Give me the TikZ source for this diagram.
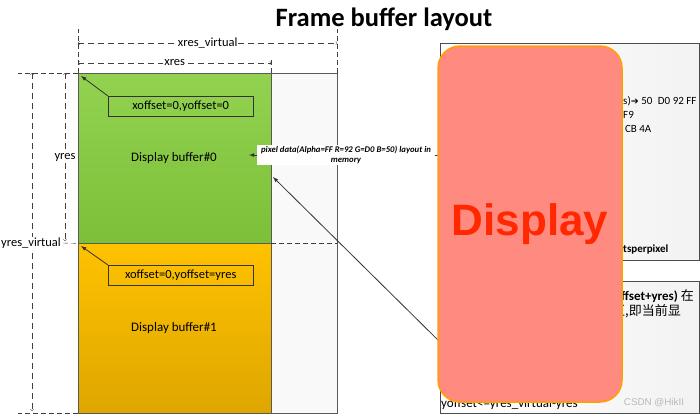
\documentclass[tikz,border=0pt]{standalone}
\usepackage{fontspec}
\setmainfont{Carlito}
\newfontfamily\dispfont{Liberation Sans}
\newfontfamily\cjkfont{Noto Sans CJK SC}
\newfontfamily\symfont{DejaVu Sans}
\definecolor{greenTop}{RGB}{146,210,80}
\definecolor{greenBot}{RGB}{124,192,56}
\definecolor{orangeTop}{RGB}{255,194,0}
\definecolor{orangeBot}{RGB}{222,166,0}
\definecolor{dispFill}{RGB}{255,138,128}
\definecolor{dispEdge}{RGB}{255,160,0}
\definecolor{dispText}{RGB}{255,40,0}

\begin{document}
\begin{tikzpicture}[x=1pt, y=-1pt, font=\fontsize{12.5}{14}\selectfont,
    dim/.style={gray!50!black, dash pattern=on 6pt off 4pt},
    ext/.style={gray!50!black, dash pattern=on 5pt off 3pt},
    dimlabel/.style={fill=white, inner sep=1pt, text=black},
    box/.style={draw=gray!70!black, inner sep=0pt, anchor=north west},
    tag/.style={draw=gray!40!black, minimum width=145, minimum height=20, anchor=north west, inner sep=0pt},
    pointer/.style={-latex, black!80, thick},
    small/.style={font=\fontsize{11}{13}\selectfont, anchor=west, inner sep=0pt}]

    \useasboundingbox (0,0) rectangle (700,416);

    % Title
    \node[font=\bfseries\fontsize{26.5}{30}\selectfont] (title) at (384,19) {Frame buffer layout};

    % Virtual area and the two display buffers
    \node[box, fill=gray!5, minimum width=259, minimum height=340] (virt) at (78,73) {};
    \node[box, top color=greenTop, bottom color=greenBot, minimum width=193, minimum height=170] (buf0) at (78,73) {};
    \node[box, top color=orangeTop, bottom color=orangeBot, minimum width=193, minimum height=170] (buf1) at (78,243) {};
    \node[font=\fontsize{13}{15}\selectfont] (lab0) at (174,158) {Display buffer\#0};
    \node[font=\fontsize{13}{15}\selectfont] (lab1) at (174,328) {Display buffer\#1};

    % Extension lines
    \draw[ext] (virt.north west) -- ++(0,-44);
    \draw[ext] (virt.north east) -- ++(0,-44);
    \draw[ext] (buf0.north east) -- ++(0,-15);
    \draw[ext] (virt.north west) -- ++(-60,0);
    \draw[ext] (virt.south west) -- ++(-60,0);
    \draw[ext] (63,243) -- (buf0.south west);
    \draw[ext] (buf0.south east) -- (virt.east |- buf0.south);

    % Dimension lines
    \draw[dim, <->] (virt.north west |- 0,43) -- (virt.north east |- 0,43)
        node[midway, dimlabel] (xv) {xres\_virtual};
    \draw[dim, <->] (buf0.north west |- 0,63) -- (buf0.north east |- 0,63)
        node[midway, dimlabel] (xr) {xres};
    \draw[dim, <->] (65,73) -- (65,241)
        node[midway, dimlabel] (yr) {yres};
    \draw[dim, <->] (32,73) -- (32,411);
    \node[dimlabel] (yv) at (31,243) {yres\_virtual};

    % Offset tags
    \node[tag] (off0) at (108,96) {xoffset=0,yoffset=0};
    \node[tag] (off1) at (108,265) {xoffset=0,yoffset=yres};
    \coordinate (tip0) at (81,76);
    \coordinate (tip1) at (81,246);
    \draw[pointer] (off0.north west) -- (tip0);
    \draw[pointer] (off1.north west) -- (tip1);

    % Info boxes on the right
    \node[box, draw=gray!60!black, left color=white, right color=gray!10, minimum width=259, minimum height=217] (info1) at (440,43) {};
    \node[box, draw=gray!60!black, left color=white, right color=gray!10, minimum width=259, minimum height=132] (info2) at (440,281) {};
    \node[small] (t1) at (623,101) {s){\symfont\fontsize{9.5}{11}\selectfont ➔} 50\enspace D0 92 FF};
    \node[small] (t2) at (623,115) {F9};
    \node[small] (t3) at (623,129) {\,CB 4A};
    \node[small, font=\bfseries\fontsize{11}{13}\selectfont] (t4) at (623,249) {tsperpixel};
    \node[small, font=\bfseries\fontsize{13}{15}\selectfont] (t5) at (621,296) {ffset+yres) {\cjkfont\mdseries 在}};
    \node[small, font=\cjkfont\fontsize{13}{15}\selectfont] (t6) at (612,311) {区,即当前显};
    \node[small, font=\fontsize{13}{15}\selectfont] (t7) at (441,404) {yoffset<=yres\_virtual-yres};
    \node[text=gray!55, font=\dispfont\fontsize{9.8}{11}\selectfont] (mark) at (654,403) {CSDN @HikII};

    % Pixel data label
    \node[fill=white, font=\bfseries\itshape\fontsize{8.7}{9.5}\selectfont, align=center, inner sep=1pt, minimum width=178, minimum height=20] (pix) at (346,155) {pixel data(Alpha=FF R=92 G=D0 B=50) layout in\\memory};
    \coordinate (pixtip) at (249,155);
    \draw[pointer] (pix.west) -- (pixtip);
    \draw[black!80, thick] (pix.east) -- (info1.west |- pix.east);

    % Long pointer to buffer#0
    \coordinate (from2) at (444,346);
    \coordinate (tip2) at (273,177);
    \draw[pointer] (from2) -- (tip2);

    % Display
    \node[draw=dispEdge, line width=1.5pt, fill=dispFill, rounded corners=22, minimum width=184, minimum height=356,
        text=dispText, font=\dispfont\bfseries\fontsize{44}{44}\selectfont] (disp) at (530,224) {Display};

\end{tikzpicture}
\end{document}
